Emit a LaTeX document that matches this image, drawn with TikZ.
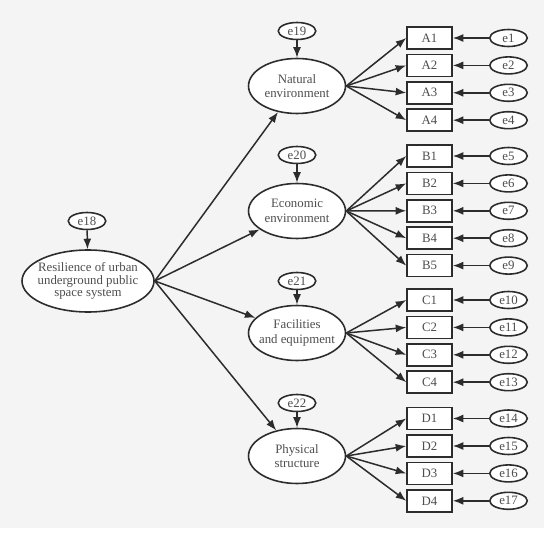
\documentclass[tikz,border=0pt]{standalone}
\usepackage{fontspec}
\setmainfont{Liberation Serif}
\usetikzlibrary{arrows.meta,shapes.geometric}
\definecolor{bggray}{HTML}{F4F4F4}
\definecolor{txtgray}{HTML}{4E4E4E}
\definecolor{linegray}{HTML}{2C2C2C}

\begin{document}
\begin{tikzpicture}[x=0.02cm,y=-0.02cm,
  lat/.style={ellipse,draw=linegray,line width=0.9pt,fill=white,inner ysep=0pt,
    inner xsep=-1.5mm,minimum width=1.94cm,minimum height=1.1cm,align=center,
    font=\fontsize{7.3}{8.4}\selectfont},
  obs/.style={rectangle,draw=linegray,line width=0.9pt,fill=white,inner sep=0pt,
    minimum width=0.9cm,minimum height=0.44cm},
  err/.style={ellipse,draw=linegray,line width=0.9pt,fill=white,inner sep=0pt,
    minimum width=0.75cm,minimum height=0.34cm},
  edge/.style={linegray,line width=0.85pt,-{Latex[length=2.1mm,width=1.6mm]}},
  every node/.style={text=txtgray,font=\fontsize{7.3}{8.4}\selectfont}
]
  \useasboundingbox (0,0) rectangle (550,533);
  \fill[bggray] (0,0) rectangle (544,528);

  \node[lat,inner xsep=-2.5mm,minimum width=2.64cm,minimum height=1.24cm,
    font=\fontsize{7.3}{7.2}\selectfont] (root) at (88,281)
    {Resilience of urban\\underground public\\space system};
  \node[err] (e18) at (87,221) {e18};
  \draw[edge] (e18) -- (root);

  \node[lat] (nat) at (297,86) {Natural\\environment};
  \node[lat] (eco) at (297,211) {Economic\\environment};
  \node[lat] (fac) at (297,333) {Facilities\\and equipment};
  \node[lat] (phy) at (297,456) {Physical\\structure};
  \node[err] (e19) at (297,31) {e19};
  \node[err] (e20) at (297,155) {e20};
  \node[err] (e21) at (297,281) {e21};
  \node[err] (e22) at (297,403) {e22};
  \draw[edge] (e19) -- (nat);
  \draw[edge] (e20) -- (eco);
  \draw[edge] (e21) -- (fac);
  \draw[edge] (e22) -- (phy);

  \draw[edge] (root.east) -- (nat);
  \draw[edge] (root.east) -- (eco);
  \draw[edge] (root.east) -- (fac);
  \draw[edge] (root.east) -- (phy);

  % indicators with their error terms
  \foreach \i/\y/\e/\f in {A1/38/e1/nat, A2/65.4/e2/nat, A3/92.8/e3/nat, A4/120.2/e4/nat,
      B1/156/e5/eco, B2/183.4/e6/eco, B3/210.8/e7/eco, B4/238.2/e8/eco, B5/265.6/e9/eco,
      C1/300/e10/fac, C2/327.4/e11/fac, C3/354.8/e12/fac, C4/382.2/e13/fac,
      D1/418.5/e14/phy, D2/446/e15/phy, D3/473.4/e16/phy, D4/500.8/e17/phy} {
    \node[obs] (\i) at (429.5,\y) {\i};
    \node[err] (\e) at (508.5,\y) {\e};
    \draw[edge] (\f.east) -- (\i.west);
    \draw[edge] (\e) -- (\i);
  }
\end{tikzpicture}
\end{document}
